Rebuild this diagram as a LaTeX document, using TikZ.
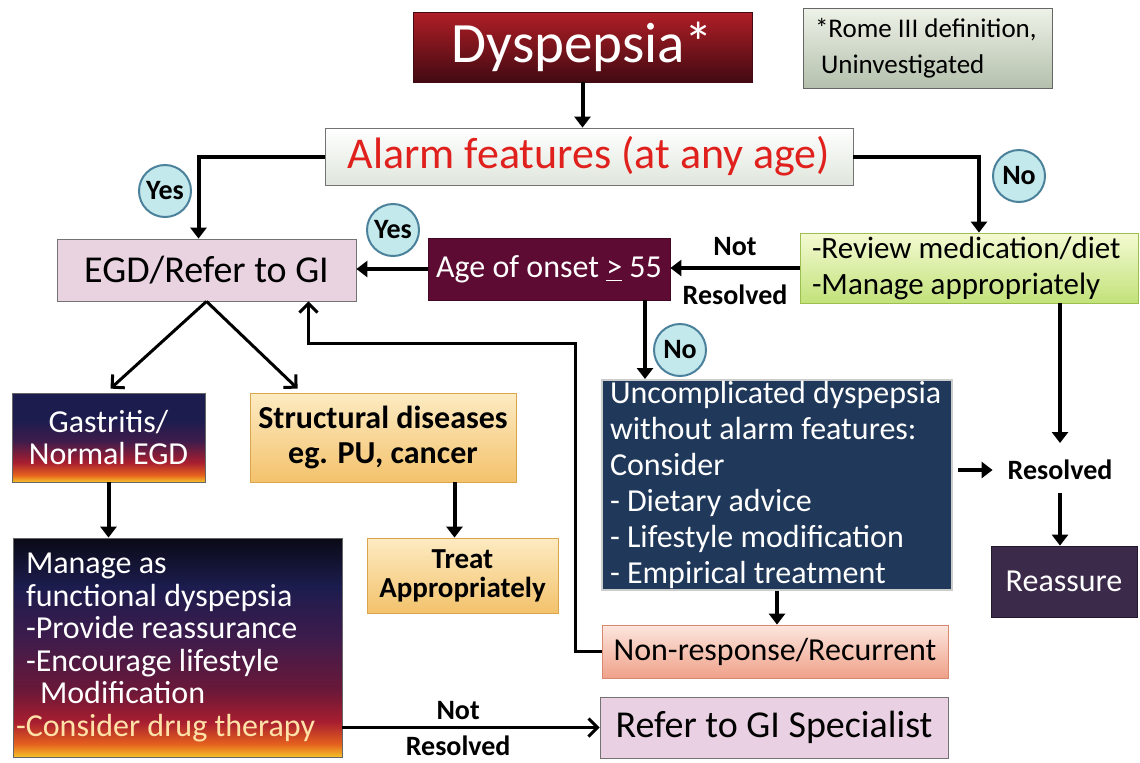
\documentclass[tikz,border=0pt]{standalone}
\usepackage{fontspec}
\setmainfont{Carlito}
\usetikzlibrary{arrows.meta,calc,positioning}

\definecolor{dysTop}{HTML}{B01E26}
\definecolor{dysBot}{HTML}{420A12}
\definecolor{noteTop}{HTML}{EEF2E8}
\definecolor{noteBot}{HTML}{B4C0AC}
\definecolor{alarmBot}{HTML}{DFE6DC}
\definecolor{alarmRed}{HTML}{E0201C}
\definecolor{egdFill}{HTML}{E9D3E0}
\definecolor{ageFill}{HTML}{5E0B33}
\definecolor{reviewTop}{HTML}{F4FAD2}
\definecolor{reviewBot}{HTML}{C2E27A}
\definecolor{reviewLine}{HTML}{9CBF50}
\definecolor{structTop}{HTML}{FDEBC2}
\definecolor{structBot}{HTML}{F3C26C}
\definecolor{structLine}{HTML}{D9A64E}
\definecolor{uncompFill}{HTML}{20395A}
\definecolor{nonTop}{HTML}{FCE6DE}
\definecolor{nonBot}{HTML}{EFA189}
\definecolor{nonLine}{HTML}{D88870}
\definecolor{referFill}{HTML}{E9D0E2}
\definecolor{reassFill}{HTML}{3B2A4A}
\definecolor{ansFill}{HTML}{C3E9EC}
\definecolor{ansLine}{HTML}{4B819B}
\definecolor{manText}{HTML}{FFE2A8}
\definecolor{sunK}{HTML}{0A0A16}
\definecolor{sunN}{HTML}{1C1C4E}
\definecolor{sunP}{HTML}{3E1C4C}
\definecolor{sunM}{HTML}{6C1838}
\definecolor{sunR}{HTML}{A81E30}
\definecolor{sunO}{HTML}{E4601E}
\definecolor{sunY}{HTML}{F6C22A}

\pgfdeclareverticalshading{gasshade}{100bp}{color(0bp)=(sunY); color(25bp)=(sunY);
  color(29bp)=(sunO); color(36bp)=(sunR); color(48bp)=(sunP); color(60bp)=(sunN);
  color(75bp)=(sunN); color(100bp)=(sunN)}
\pgfdeclareverticalshading{manshade}{100bp}{color(0bp)=(sunY); color(25bp)=(sunY);
  color(28bp)=(sunO); color(33bp)=(sunR); color(40bp)=(sunM); color(52bp)=(sunP);
  color(64bp)=(sunN); color(75bp)=(sunK); color(100bp)=(sunK)}

\begin{document}
\begin{tikzpicture}
  [x=0.5pt, y=-0.5pt,
    box/.style={
      rectangle,
      draw=black!55,
      thin,
      inner sep=0pt,
      align=center,
      execute at begin node={\spaceskip=0pt\xspaceskip=0pt}
    },
    arr/.style={
      line width=2pt,
      -{Triangle[width=8pt,length=5.5pt]}
    },
    barb/.style={
      line width=1.5pt,
      -{Straight Barb[width=9pt,length=4.5pt]}
    },
    answer/.style={
      circle,
      draw=ansLine,
      line width=1pt,
      fill=ansFill,
      minimum size=26pt,
      inner sep=0pt,
      font=\fontsize{14}{14}\selectfont\bfseries
    },
    lbl/.style={
      font=\fontsize{14}{14}\selectfont\bfseries
    }
  ]
  \useasboundingbox (0,0) rectangle (1140,762);

  \node[box, minimum width=169.5pt, minimum height=35pt, top color=dysTop, bottom color=dysBot,
    draw=dysBot, text=white, font=\fontsize{28.5}{30}\selectfont] (dys) at (582.5,47) {Dyspepsia*};
  \node[box, minimum width=124.5pt, minimum height=40pt, top color=noteTop, bottom color=noteBot,
    draw=black!60, align=left, text width=112.5pt, inner xsep=6pt,
    font=\fontsize{13.5}{18}\selectfont] (note) at (927.5,48) {*Rome III definition,\\\hspace*{3pt}Uninvestigated};
  \node[box, minimum width=264pt, minimum height=28.5pt, top color=white, bottom color=alarmBot,
    text=alarmRed, font=\fontsize{22}{24}\selectfont] (alarm) at (589,156.5) {Alarm features (at any age)};

  \node[box, minimum width=149.5pt, minimum height=31pt, fill=egdFill,
    font=\fontsize{19}{20}\selectfont] (egd) at (206.5,270) {EGD/Refer to GI};
  \node[box, minimum width=121pt, minimum height=31pt, fill=ageFill, draw=ageFill!70!black,
    text=white, font=\fontsize{16}{18}\selectfont] (age) at (549,269) {Age of onset \underline{>} 55};
  \node[box, minimum width=169pt, minimum height=35pt, top color=reviewTop, bottom color=reviewBot,
    draw=reviewLine, align=left, text width=157pt, inner xsep=6pt,
    font=\fontsize{15.5}{18}\selectfont] (review) at (969,268) {-Review medication/diet\\-Manage appropriately};

  \node[box, minimum width=96.5pt, minimum height=44.5pt, shading=gasshade, draw=black!60,
    text=white, font=\fontsize{16}{16}\selectfont] (gas) at (108.5,437.5) {Gastritis/\\Normal EGD};
  \node[box, minimum width=133pt, minimum height=44.5pt, top color=structTop, bottom color=structBot,
    draw=structLine, font=\fontsize{16}{17.5}\selectfont\bfseries] (struct) at (383,437.5) {Structural diseases\\eg. PU, cancer};
  \node[box, minimum width=95.5pt, minimum height=37.5pt, top color=structTop, bottom color=structBot,
    draw=structLine, font=\fontsize{14.5}{14.5}\selectfont\bfseries] (treat) at (462.5,575.5) {Treat\\Appropriately};
  \node[box, minimum width=164.5pt, minimum height=109.5pt, shading=manshade, draw=black!60,
    text=white, align=left, text width=151.5pt, inner xsep=6.5pt,
    font=\fontsize{16}{16.3}\selectfont] (manage) at (177.5,647.5)
    {Manage as\\functional dyspepsia\\-Provide reassurance\\-Encourage lifestyle\\\hspace*{7pt}Modification\\\hspace*{-5pt}\textcolor{manText}{-Consider drug therapy}};

  \node[box, minimum width=175pt, minimum height=105pt, fill=uncompFill, draw=white!80!black,
    line width=1pt, text=white, align=left, text width=167pt, inner xsep=4pt,
    font=\fontsize{16}{18}\selectfont] (uncomp) at (777,485)
    {Uncomplicated dyspepsia\\without alarm features:\\Consider\\- Dietary advice\\- Lifestyle modification\\- Empirical treatment};
  \node[box, minimum width=173pt, minimum height=26.5pt, top color=nonTop, bottom color=nonBot,
    draw=nonLine, font=\fontsize{16}{18}\selectfont] (nonresp) at (775,651.5) {Non-response/Recurrent};
  \node[box, minimum width=174pt, minimum height=30.5pt, fill=referFill,
    font=\fontsize{19}{20}\selectfont] (refer) at (774,727.5) {Refer to GI Specialist};
  \node[box, minimum width=73pt, minimum height=35.5pt, fill=reassFill, draw=reassFill!60!black,
    text=white, font=\fontsize{16}{18}\selectfont] (reassure) at (1064,581.5) {Reassure};
  \node[lbl] (resolved) at (1060,470) {Resolved};

  \node[answer] (yes1) at (165,191) {Yes};
  \node[answer] (yes2) at (393,230) {Yes};
  \node[answer] (no1) at (1019,176) {No};
  \node[answer] (no2) at (680,350) {No};

  \draw[arr] (dys.south) -- (dys.south |- alarm.north);
  \draw[arr] (alarm.west) -| ([xshift=-4pt]egd.north);
  \draw[arr] (alarm.east) -| ([xshift=5pt]review.north);
  \draw[arr] (review.west) -- (review.west -| age.east)
    node[lbl, midway, above=2pt] {Not} node[lbl, midway, below=4pt] {Resolved};
  \draw[arr] (age.west) -- (age.west -| egd.east);
  \draw[arr] ([xshift=48pt]age.south) -- ([xshift=48pt]age.south |- uncomp.north);
  \draw[barb] (egd.south) -- ([xshift=1pt,yshift=2pt]gas.north);
  \draw[barb] (egd.south) -- ([xshift=24pt,yshift=2pt]struct.north west);
  \draw[arr] (gas.south) -- (gas.south |- manage.north);
  \draw[arr] ([xshift=-4pt]treat.north |- struct.south) -- ([xshift=-4pt]treat.north);
  \draw[arr] (uncomp.south) -- (uncomp.south |- nonresp.north);
  \coordinate (back) at (575,343);
  \draw[barb] (nonresp.west) -| (back) -| ([xshift=51pt]egd.south);
  \draw[arr, shorten >=5pt] (review.south -| resolved.north) -- (resolved.north);
  \draw[arr, shorten <=2.5pt, shorten >=4pt] (uncomp.east |- resolved.west) -- (resolved.west);
  \draw[arr, shorten <=3pt] (resolved.south) -- (resolved.south |- reassure.north);
  \draw[barb] (refer.west -| manage.east) -- (refer.west)
    node[lbl, pos=0.45, above=0pt] {Not} node[lbl, pos=0.45, below=0pt] {Resolved};
\end{tikzpicture}
\end{document}
